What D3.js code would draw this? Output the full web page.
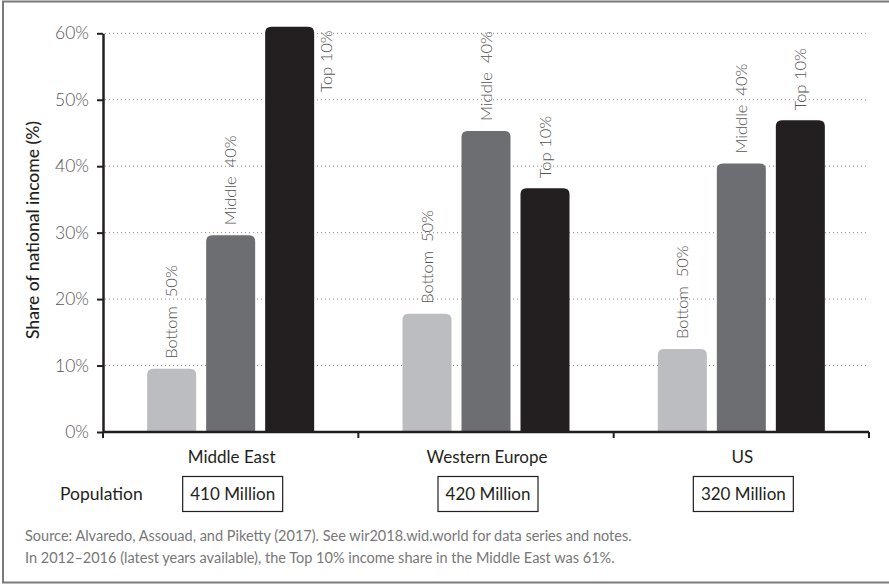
<!DOCTYPE html>
<html>
<head>
<meta charset="utf-8">
<script src="https://cdn.jsdelivr.net/npm/d3@7"></script>
<style>
  html, body { margin: 0; padding: 0; background: #fff; }
  svg { display: block; font-family: Lato, "Open Sans", sans-serif; }
</style>
</head>
<body>
<svg id="chart" width="889" height="584"></svg>
<script>
// ---- data ----
const regions = ["Middle East", "Western Europe", "US"];
const groups = ["Bottom  50%", "Middle  40%", "Top 10%"];
const bottom50 = [9.5, 17.8, 12.5];
const middle40 = [29.6, 45.3, 40.4];
const top10 = [61, 36.7, 46.9];
const population = ["410 Million", "420 Million", "320 Million"];
const yTicks = [0, 10, 20, 30, 40, 50, 60];
const groupColors = ["#bcbdc0", "#6d6e71", "#231f20"];
const sourceLines = [
  "Source: Alvaredo, Assouad, and Piketty (2017). See wir2018.wid.world for data series and notes.",
  "In 2012–2016 (latest years available), the Top 10% income share in the Middle East was 61%."
];

const series = [bottom50, middle40, top10];
const rows = [];
regions.forEach((r, i) => groups.forEach((g, j) => rows.push({region: r, group: g, gi: j, value: series[j][i]})));

const svg = d3.select("#chart");

// frame
svg.append("rect").attr("x", 3).attr("y", 1.5).attr("width", 900).attr("height", 581)
  .attr("fill", "none").attr("stroke", "#7a7a7a").attr("stroke-width", 2);

const x = d3.scaleBand().domain(regions).range([103, 869]).padding(0);
const y = d3.scaleLinear().domain([0, 60]).range([432, 33.3]);
const inner = d3.scaleBand().domain(groups).range([-83.5, 83.5]).paddingInner(0.1695);

// grid
svg.append("g").selectAll("line").data(yTicks.filter(t => t > 0)).join("line")
  .attr("x1", 105).attr("x2", 869)
  .attr("y1", d => y(d)).attr("y2", d => y(d))
  .attr("stroke", "#8a8a8a").attr("stroke-width", 1).attr("stroke-dasharray", "1,3");

// y axis
const yAxis = svg.append("g").attr("transform", "translate(103,0)")
  .call(d3.axisLeft(y).tickValues(yTicks).tickFormat(d => d + "%").tickSize(6).tickSizeOuter(0));
yAxis.select(".domain").attr("stroke", "#231f20").attr("stroke-width", 2.5);
yAxis.selectAll(".tick line").attr("stroke", "#231f20").attr("stroke-width", 2);
yAxis.selectAll(".tick text").attr("x", -14).attr("fill", "#555").attr("font-size", 17.5)
  .attr("font-weight", 300).attr("font-family", "Lato, sans-serif");

// bars
function topRounded(x0, y0, w, h, r) {
  r = Math.min(r, h, w / 2);
  return `M${x0},${y0 + h}V${y0 + r}Q${x0},${y0} ${x0 + r},${y0}H${x0 + w - r}Q${x0 + w},${y0} ${x0 + w},${y0 + r}V${y0 + h}Z`;
}
svg.append("g").selectAll("path").data(rows).join("path")
  .attr("d", d => {
    const bx = x(d.region) + x.bandwidth() / 2 + inner(d.group);
    return topRounded(bx, y(d.value), inner.bandwidth(), y(0) - y(d.value), 6);
  })
  .attr("fill", d => groupColors[d.gi]);

// bar labels
svg.append("g").selectAll("text").data(rows).join("text")
  .attr("transform", d => {
    const cx = x(d.region) + x.bandwidth() / 2 + inner(d.group) + inner.bandwidth() / 2;
    if (d.value > 60) return `translate(${cx + inner.bandwidth() / 2 + 12},${y(60) - 3}) rotate(-90)`;
    return `translate(${cx},${y(d.value) - 10}) rotate(-90)`;
  })
  .attr("text-anchor", d => d.value > 60 ? "end" : "start")
  .attr("dy", "0.35em")
  .attr("fill", "#555").attr("font-size", 16.5).attr("font-weight", 300)
  .style("white-space", "pre")
  .text(d => d.group);

// x axis
const xAxisG = svg.append("g").attr("transform", "translate(0,432)");
xAxisG.append("line").attr("x1", 103).attr("x2", 869).attr("stroke", "#231f20").attr("stroke-width", 2.5);
const bounds = regions.map(r => x(r)).concat([x.range()[1]]);
xAxisG.selectAll("line.t").data(bounds).join("line").attr("class", "t")
  .attr("x1", d => d).attr("x2", d => d).attr("y1", 0).attr("y2", 6)
  .attr("stroke", "#231f20").attr("stroke-width", 2);

// category labels
svg.append("g").selectAll("text").data(regions).join("text")
  .attr("x", d => x(d) + x.bandwidth() / 2 + 1).attr("y", 457).attr("dy", "0.35em")
  .attr("text-anchor", "middle").attr("fill", "#231f20").attr("font-size", 17)
  .text(d => d);

// population
svg.append("text").attr("x", 60).attr("y", 494).attr("dy", "0.35em")
  .attr("fill", "#231f20").attr("font-size", 17.5).text("Population");
const pop = svg.append("g").selectAll("g").data(regions).join("g")
  .attr("transform", d => `translate(${x(d) + x.bandwidth() / 2 + 2},494)`);
pop.append("rect").attr("x", -50).attr("y", -17.5).attr("width", 100).attr("height", 35)
  .attr("fill", "none").attr("stroke", "#231f20").attr("stroke-width", 1.2);
pop.append("text").attr("text-anchor", "middle").attr("dy", "0.35em")
  .attr("fill", "#231f20").attr("font-size", 17)
  .text((d, i) => population[i]);

// y title
svg.append("text").attr("transform", "translate(33,230) rotate(-90)")
  .attr("text-anchor", "middle").attr("dy", "0.35em")
  .attr("fill", "#231f20").attr("font-size", 17.5).attr("font-weight", 500)
  .text("Share of national income (%)");

// source
svg.append("g").selectAll("text").data(sourceLines).join("text")
  .attr("x", 25).attr("y", (d, i) => 541 + i * 22)
  .attr("fill", "#777").attr("font-size", 14.5)
  .text(d => d);
</script>
</body>
</html>
